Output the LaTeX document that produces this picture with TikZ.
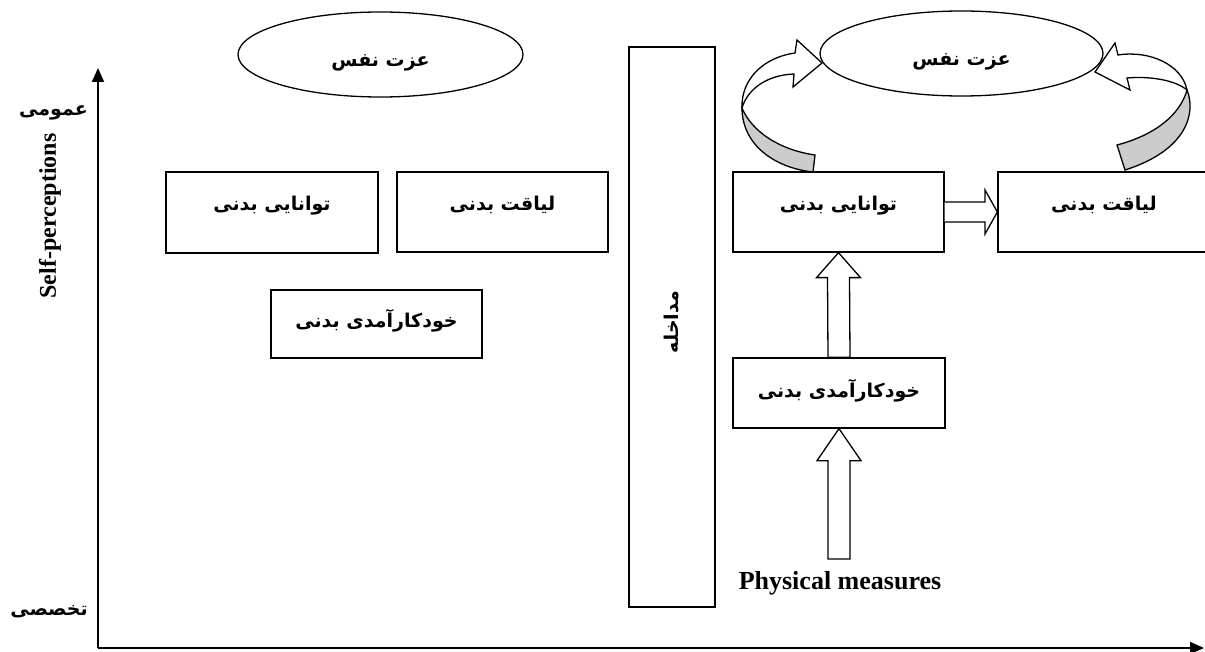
\documentclass[tikz,border=0pt]{standalone}
\usepackage{fontspec}
\setmainfont{Liberation Serif}
\newfontfamily\fa[Script=Arabic]{DejaVu Sans}
\TeXXeTstate=1
\usetikzlibrary{calc,shapes.geometric,arrows.meta}
\newcommand{\fatext}[2]{\raisebox{#1}[0pt][0pt]{#2}}
\tikzset{
  fafont/.style={font=\fa\bfseries\fontsize{19}{23}\selectfont},
  box/.style={draw, line width=1.3pt, minimum width=212pt, minimum height=80pt, inner sep=0pt, fafont},
  ell/.style={draw, ellipse, line width=1.3pt, minimum width=285pt, minimum height=85pt, inner sep=0pt, fafont},
  fatxt/.style={fafont, inner sep=0pt},
  entxt/.style={font=\bfseries\fontsize{26}{30}\selectfont, inner sep=0pt},
  blockarrow/.style={draw, line width=1.3pt, fill=white, line join=miter},
  curlface/.style={draw, line width=1.3pt, fill=white, line join=miter},
  curlshade/.style={draw, line width=1.3pt, fill=gray!40, line join=miter},
  axisline/.style={line width=1.8pt, -{Triangle[length=14pt,width=12pt]}},
}
\begin{document}
\begin{tikzpicture}[x=1pt,y=-1pt]
\clip (0,0) rectangle (1205,652);
\fill[white] (0,0) rectangle (1205,652);

% axes
\coordinate (O) at (98,648);
\coordinate (Ytop) at (98,68);
\coordinate (Xend) at (1204,648);
\draw[axisline] (O) -- (Ytop);
\draw[axisline] (O) -- (Xend);
\node[fatxt, anchor=east] (gen) at (88,113) {\beginR عمومی\endR};
\node[fatxt, anchor=east] (spec) at (88,612) {\beginR تخصصی\endR};
\node[entxt, rotate=90, font=\bfseries\fontsize{24}{28}\selectfont] (sp) at (50,216) {Self-perceptions};

% left group
\node[ell] (e1) at (380.5,54.5) {\fatext{-12pt}{\beginR عزت نفس\endR}};
\node[box, minimum width=212pt, minimum height=81pt] (tb1) at (272,212.5) {\fatext{1.5pt}{\beginR توانایی بدنی\endR}};
\node[box, minimum width=211pt] (lb1) at (502.5,212) {\fatext{1.5pt}{\beginR لیاقت بدنی\endR}};
\node[box, minimum width=211pt, minimum height=68pt] (kb1) at (376.5,324) {\fatext{-4pt}{\beginR خودکارآمدی بدنی\endR}};

% intervention
\node[draw, line width=1.3pt, minimum width=86pt, minimum height=560pt, inner sep=0pt] (int) at (672,327) {};
\node[fatxt, rotate=90] (intt) at ($(int.center)+(0,-5)$) {\beginR مداخله\endR};

% right group
\node[ell, minimum width=283pt] (e2) at (961.5,53.5) {\fatext{-12pt}{\beginR عزت نفس\endR}};
\node[box, minimum width=211pt] (tb2) at (838.5,212) {\fatext{1.5pt}{\beginR توانایی بدنی\endR}};
\node[box, minimum width=212pt] (lb2) at (1104,212) {\fatext{1.5pt}{\beginR لیاقت بدنی\endR}};
\node[box, minimum width=212pt, minimum height=70pt] (kb2) at (839,393) {\fatext{-4pt}{\beginR خودکارآمدی بدنی\endR}};
\node[entxt] (pm) at (840,583) {Physical measures};
\coordinate (pmtop) at (kb2.south |- 0,559);

% block arrow tb2 -> lb2
\draw[blockarrow] (tb2.east |- 0,202) -- (985,202) -- (985,190) -- (lb2.west) -- (985,234) -- (985,222) -- (tb2.east |- 0,222) ;
% block arrow kb2 -> tb2
\draw[blockarrow] ($(kb2.north)+(-11,0)$) -- ($(tb2.south)+(-11,25)$) -- ($(tb2.south)+(-22,25)$) -- (tb2.south) -- ($(tb2.south)+(22,25)$) -- ($(tb2.south)+(11,25)$) -- ($(kb2.north)+(11,0)$) -- cycle;
% block arrow measures -> kb2
\draw[blockarrow] ($(pmtop)+(-11,0)$) -- ($(kb2.south)+(-11,32)$) -- ($(kb2.south)+(-22,32)$) -- (kb2.south) -- ($(kb2.south)+(22,32)$) -- ($(kb2.south)+(11,32)$) -- ($(pmtop)+(11,0)$) -- cycle;

% left curved arrow tb2 -> e2
\draw[curlshade] (742,108) .. controls (742,145) and (775,168) .. (813,172) -- (815,155) .. controls (780,150) and (752,132) .. (742,108) -- cycle;
\draw[curlface] (795,53) .. controls (765,57) and (741,78) .. (742,108) .. controls (748,88) and (768,75) .. (794,74) -- (793,87) -- (822,63) -- (797,40) -- cycle;

% right curved arrow lb2 -> e2
\draw[curlshade] (1187,90) .. controls (1196,112) and (1188,150) .. (1125,170) -- (1117,145) .. controls (1155,135) and (1180,115) .. (1187,90) -- cycle;
\draw[curlface] (1095,72) -- (1115,43) -- (1118,55) .. controls (1150,50) and (1182,65) .. (1187,90) .. controls (1175,80) and (1150,76) .. (1127,78) -- (1130,90) -- cycle;
\end{tikzpicture}
\end{document}
